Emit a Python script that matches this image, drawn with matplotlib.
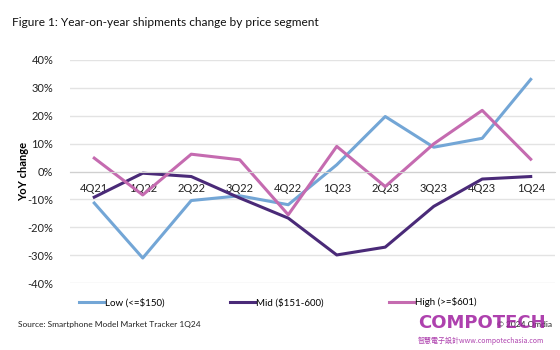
import matplotlib.pyplot as plt
from matplotlib.ticker import FuncFormatter

# Quarters and YoY shipment change (%) by price segment
quarters = ['4Q21', '1Q22', '2Q22', '3Q22', '4Q22', '1Q23', '2Q23', '3Q23', '4Q23', '1Q24']
low = [-11.3, -31.0, -10.4, -8.7, -11.9, 2.4, 19.7, 8.7, 11.9, 33.0]
mid = [-9.2, -0.6, -1.8, -9.5, -16.7, -29.9, -27.1, -12.5, -2.7, -1.8]
high = [4.8, -8.4, 6.2, 4.2, -15.5, 9.0, -5.4, 9.9, 21.9, 4.4]
labels = ['Low (<=$150)', 'Mid ($151-600)', 'High (>=$601)']
colors = ['#73a6d6', '#4a2a78', '#c56bb0']

plt.rcParams['font.family'] = ['Lato', 'DejaVu Sans']

fig = plt.figure(figsize=(5.6, 3.5), dpi=100)
ax = fig.add_axes([0.125, 0.191, 0.866, 0.638])

x = range(len(quarters))
for series, name, c in zip([low, mid, high], labels, colors):
    ax.plot(x, series, color=c, lw=2.2, label=name)

ax.set_ylim(-40, 40)
ax.set_xlim(-0.5, 9.5)
ax.set_yticks(range(-40, 41, 10))
ax.yaxis.set_major_formatter(FuncFormatter(lambda v, p: f'{v:.0f}%'))
ax.set_xticks(list(x))
ax.set_xticklabels(quarters)
ax.grid(axis='y', color='#e3e3e3', lw=1)
ax.set_axisbelow(True)

for s in ['top', 'right', 'left']:
    ax.spines[s].set_visible(False)
ax.spines['bottom'].set_position(('data', 0))
ax.spines['bottom'].set_color('#d0d0d0')
ax.tick_params(axis='both', length=0, labelsize=8, colors='#222222')
ax.tick_params(axis='x', pad=8)
ax.tick_params(axis='y', pad=12)

ax.set_ylabel('YoY change', fontsize=8, fontweight='bold', labelpad=-1)

fig.text(0.021, 0.935, 'Figure 1: Year-on-year shipments change by price segment',
         fontsize=8.6, color='#111111', va='center')

ax.legend(loc='upper left', bbox_to_anchor=(0.0, -0.025), ncol=3, frameon=False,
          fontsize=7, handlelength=2.6, handletextpad=0.1, columnspacing=6.7)

fig.text(0.032, 0.066, 'Source: Smartphone Model Market Tracker 1Q24', fontsize=6, color='#222222')
fig.text(0.985, 0.066, '© 2024 Omdia', fontsize=6, color='#222222', ha='right')

# watermark
fig.text(0.746, 0.064, 'COMPOTECH', fontsize=13, color='#a020a0', alpha=0.85,
         fontweight='bold', family=['DejaVu Sans Condensed', 'DejaVu Sans'])
fig.text(0.746, 0.02, '智慧電子設計www.compotechasia.com', fontsize=5,
         color='#a020a0', alpha=0.85, family=['Noto Sans CJK TC', 'DejaVu Sans'])

plt.savefig('out.png', dpi=100)
